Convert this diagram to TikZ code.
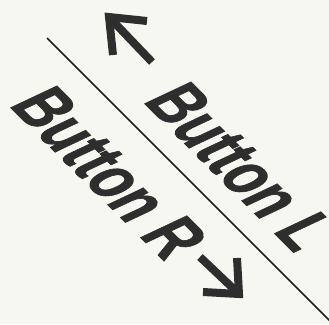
\documentclass[tikz,border=0pt]{standalone}
\usepackage{fontspec}
\setsansfont{Liberation Sans}[BoldFeatures={FakeBold=1.2}]
\usetikzlibrary{positioning}

\begin{document}
\begin{tikzpicture}[
    x=1pt, y=-1pt,
    font=\sffamily\bfseries,
    btnlabel/.style={anchor=base west, inner sep=0pt, text=inkgray,
        font=\sffamily\bfseries\fontsize{70}{70}\selectfont,
        rotate=-45, xslant=0.36, xscale=0.75},
    glypharrow/.style={draw=inkgray, line width=8pt, line join=miter, line cap=butt}
]
    % 颜色
    \definecolor{paper}{HTML}{F7F7F2}
    \definecolor{inkgray}{HTML}{2E2E2E}
    \definecolor{linegray}{HTML}{1E1E1E}

    % 画布尺寸
    \fill[paper] (0,0) rectangle (329,324);
    \path[use as bounding box] (0,0) rectangle (329,324);

    % ==========================================
    % 分界斜线
    % ==========================================
    \coordinate (lineA) at (47,38);
    \coordinate (lineB) at (333,324);
    \draw[linegray, line width=1.6pt] (lineA) -- (lineB);

    % ==========================================
    % 两个按键标签
    % ==========================================
    \node[btnlabel] (btnL) at (142.1,101.1) {Button L};
    \node[btnlabel] (btnR) at (8.1,105.1) {Button R};

    % 左箭头 (指向左上)
    \coordinate (tipL) at (109,17);
    \coordinate (endL) at (152,62);
    \draw[glypharrow] (endL) -- (tipL);
    \draw[glypharrow] ([shift={(38,4)}]tipL) -- (tipL) -- ([shift={(4,38)}]tipL);

    % 右箭头 (指向右下)
    \coordinate (tipR) at (239,294);
    \coordinate (endR) at (200,257);
    \draw[glypharrow] (endR) -- (tipR);
    \draw[glypharrow] ([shift={(-36,-2)}]tipR) -- (tipR) -- ([shift={(-2,-36)}]tipR);

\end{tikzpicture}
\end{document}
